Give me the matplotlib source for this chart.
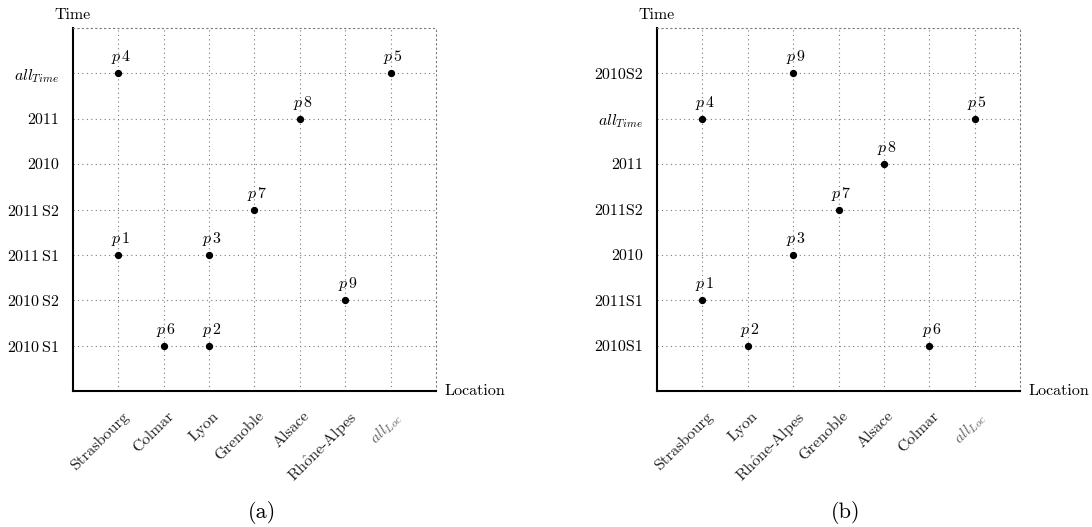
"""
Two lattice diagrams of points p1..p9 on (Location, Time) axes
"""

import matplotlib
matplotlib.use('Agg')
import matplotlib.pyplot as plt
from matplotlib.transforms import ScaledTranslation

matplotlib.rcParams.update({
    'font.family': 'serif',
    'font.serif': ['cmr10', 'DejaVu Serif'],
    'mathtext.fontset': 'cm',
    'axes.unicode_minus': False,
    'axes.formatter.use_mathtext': True,
})

RHONE = r'Rh$\mathrm{\hat{o}}$ne-Alpes'
ALL_LOC = r'$all_{Loc}$'
ALL_TIME = r'$all_{Time}$'

# panel (a)
locs_a = ['Strasbourg', 'Colmar', 'Lyon', 'Grenoble', 'Alsace', RHONE, ALL_LOC]
times_a = [r'$\mathrm{2010\,S1}$', r'$\mathrm{2010\,S2}$', r'$\mathrm{2011\,S1}$',
           r'$\mathrm{2011\,S2}$', '2010', '2011', ALL_TIME]
# point name -> location / time category
pts_a_names = ['1', '2', '3', '4', '5', '6', '7', '8', '9']
pts_a_loc = ['Strasbourg', 'Lyon', 'Lyon', 'Strasbourg', ALL_LOC, 'Colmar', 'Grenoble', 'Alsace', RHONE]
pts_a_time = [r'$\mathrm{2011\,S1}$', r'$\mathrm{2010\,S1}$', r'$\mathrm{2011\,S1}$', ALL_TIME, ALL_TIME,
              r'$\mathrm{2010\,S1}$', r'$\mathrm{2011\,S2}$', '2011', r'$\mathrm{2010\,S2}$']

# panel (b)
locs_b = ['Strasbourg', 'Lyon', RHONE, 'Grenoble', 'Alsace', 'Colmar', ALL_LOC]
times_b = ['2010S1', '2011S1', '2010', '2011S2', '2011', ALL_TIME, '2010S2']
pts_b_names = ['1', '2', '3', '4', '5', '6', '7', '8', '9']
pts_b_loc = ['Strasbourg', 'Lyon', RHONE, 'Strasbourg', ALL_LOC, 'Colmar', 'Grenoble', 'Alsace', RHONE]
pts_b_time = ['2011S1', '2010S1', '2010', ALL_TIME, ALL_TIME, '2010S1', '2011S2', '2011', '2010S2']

DOT = (0, (1, 3))
GRID_COLOR = '#7a7a7a'


def draw_panel(ax, locs, times, names, p_loc, p_time, tag, tag_x):
    n = len(locs)
    ax.set_xlim(0, n + 1)
    ax.set_ylim(0, len(times) + 1)

    for side in ('left', 'bottom'):
        ax.spines[side].set_linewidth(1.5)
        ax.spines[side].set_color('black')
    for side in ('top', 'right'):
        ax.spines[side].set_linestyle(DOT)
        ax.spines[side].set_linewidth(0.8)
        ax.spines[side].set_color(GRID_COLOR)

    ax.set_xticks(range(1, n + 1))
    ax.set_yticks(range(1, len(times) + 1))
    ax.set_yticklabels(times, fontsize=11.5)
    ax.set_xticklabels(locs, fontsize=11.5, rotation=45, ha='right', va='top',
                       rotation_mode='anchor', color='#222222')
    ax.tick_params(axis='both', length=0)
    ax.tick_params(axis='y', pad=10)
    ax.tick_params(axis='x', pad=13)
    shift = ScaledTranslation(3 / 100, 0, ax.figure.dpi_scale_trans)
    for lab in ax.get_xticklabels():
        lab.set_transform(lab.get_transform() + shift)
    ax.get_xticklabels()[-1].set_color('#666666')

    ax.grid(True, linestyle=DOT, linewidth=0.8, color=GRID_COLOR)
    ax.set_axisbelow(True)

    xs = [locs.index(l) + 1 for l in p_loc]
    ys = [times.index(t) + 1 for t in p_time]
    ax.scatter(xs, ys, s=18, color='black', zorder=3, clip_on=False)
    for nm, x, y in zip(names, xs, ys):
        ax.annotate(r'$p\,%s$' % nm, (x, y), xytext=(2, 5), textcoords='offset points',
                    ha='center', va='bottom', fontsize=11.5)

    ax.annotate('Time', (0, 1), xycoords='axes fraction', xytext=(0, 9),
                textcoords='offset points', ha='center', va='center', fontsize=11.5)
    ax.annotate('Location', (1, 0), xycoords='axes fraction', xytext=(6, 0),
                textcoords='offset points', ha='left', va='center', fontsize=11.5)
    ax.figure.text(tag_x, 1 - 512 / 527, tag, ha='center', va='center', fontsize=16)


fig = plt.figure(figsize=(10.92, 5.27), dpi=100)
ax_a = fig.add_axes([73 / 1092, 136 / 527, 363 / 1092, 363 / 527])
ax_b = fig.add_axes([657 / 1092, 136 / 527, 363 / 1092, 363 / 527])

draw_panel(ax_a, locs_a, times_a, pts_a_names, pts_a_loc, pts_a_time, '(a)', 262 / 1092)
draw_panel(ax_b, locs_b, times_b, pts_b_names, pts_b_loc, pts_b_time, '(b)', 846 / 1092)

fig.savefig('out.png', dpi=100)
plt.close(fig)
